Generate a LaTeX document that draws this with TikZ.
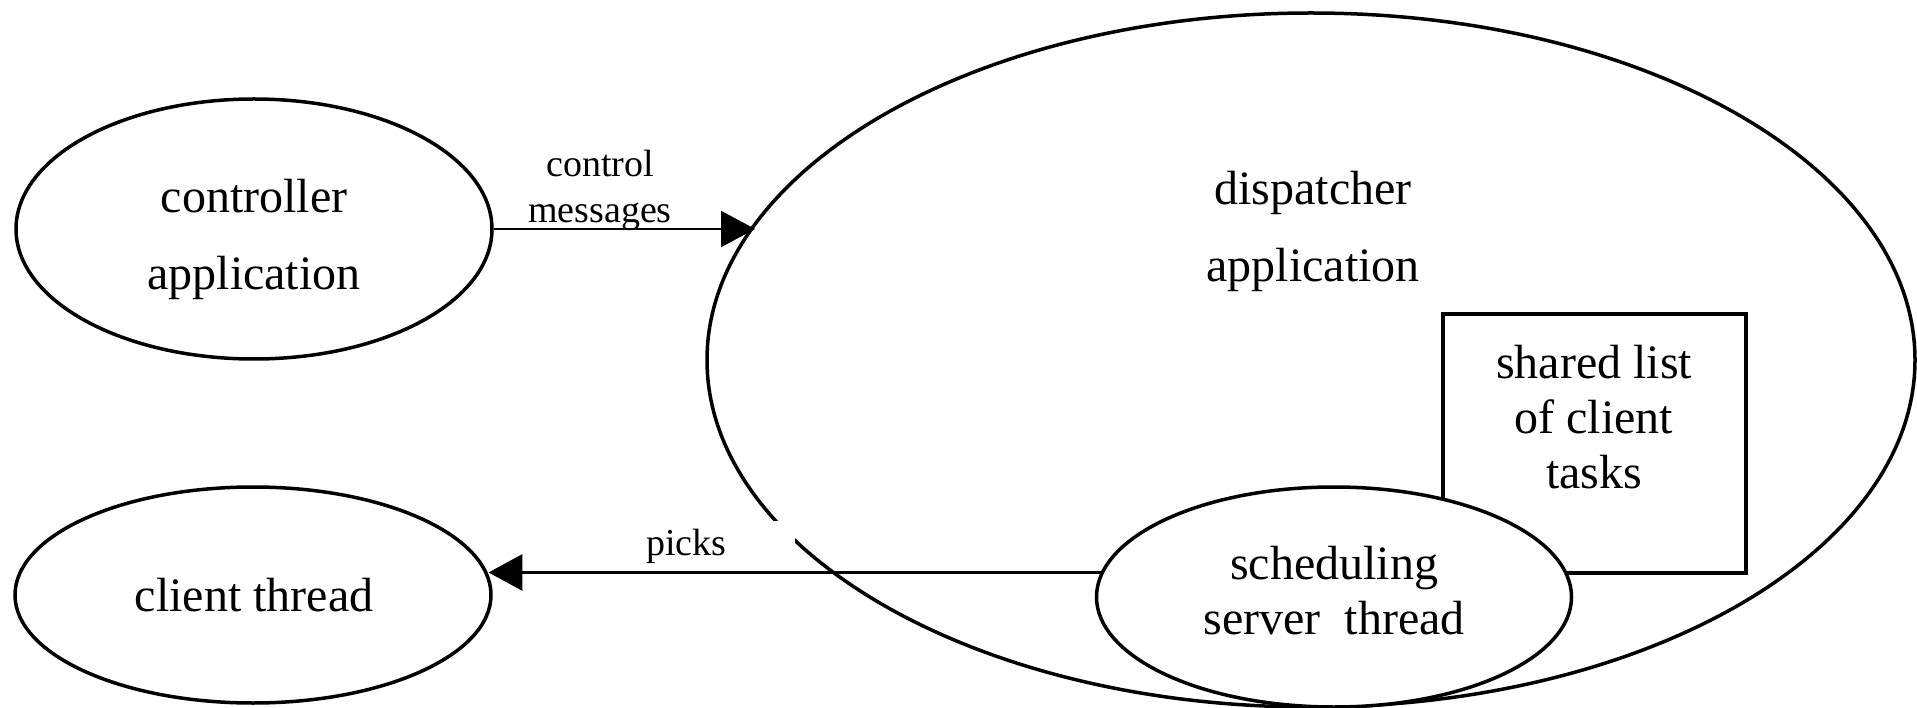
\documentclass[tikz,border=0pt]{standalone}
\usepackage{fontspec}
\setmainfont{Liberation Serif}
\usetikzlibrary{shapes.geometric,arrows.meta}
\tikzset{
  oval/.style={ellipse,draw,line width=3.5pt,inner sep=0pt,fill=white},
  bigtxt/.style={align=center,font=\fontsize{48}{77}\selectfont,inner sep=0pt},
  midtxt/.style={align=center,font=\fontsize{48}{55}\selectfont,inner sep=0pt},
  smalltxt/.style={align=center,font=\fontsize{38}{46}\selectfont,inner sep=0pt},
  bigtip/.style={-{Triangle[length=34pt,width=36pt]}},
}
\begin{document}
\begin{tikzpicture}[x=1pt,y=-1pt]
\useasboundingbox (0,0) rectangle (1917,708);
\node[oval,minimum width=1208pt,minimum height=694pt] (disp) at (1311,360) {};
\node[bigtxt] (disptext) at (1313,231) {dispatcher\\application};
\node[draw,line width=3.7pt,minimum width=303pt,minimum height=259pt,inner sep=0pt] (box) at (1594.5,443.5) {};
\node[midtxt] (boxtext) at (1594,417) {shared list\\of client\\tasks};
\node[oval,minimum width=475pt,minimum height=220pt] (sched) at (1334,597) {};
\node[midtxt] (schedtext) at (1334,591) {scheduling\\server~~thread};
\node[oval,minimum width=476pt,minimum height=260pt] (ctrl) at (254,229) {};
\node[bigtxt] at (254,239) {controller\\application};
\node[oval,minimum width=476pt,minimum height=216pt] (client) at (253,595) {};
\node[bigtxt] at (254,595) {client thread};
\draw[line width=1.2pt,bigtip] (ctrl.east) -- (ctrl.east -| disp.166.8);
\node[smalltxt] (ctrllabel) at (600,190) {control\\messages};
\draw[line width=3.4pt,bigtip] (sched.174.1) -- (sched.174.1 -| client.5.4);
\node[smalltxt,fill=white,minimum width=217pt,minimum height=51pt,anchor=south] (pickslabel) at (686.5,572) {picks};
\draw[line width=1.2pt] (pickslabel.south west) -- (pickslabel.south east);
\end{tikzpicture}
\end{document}
